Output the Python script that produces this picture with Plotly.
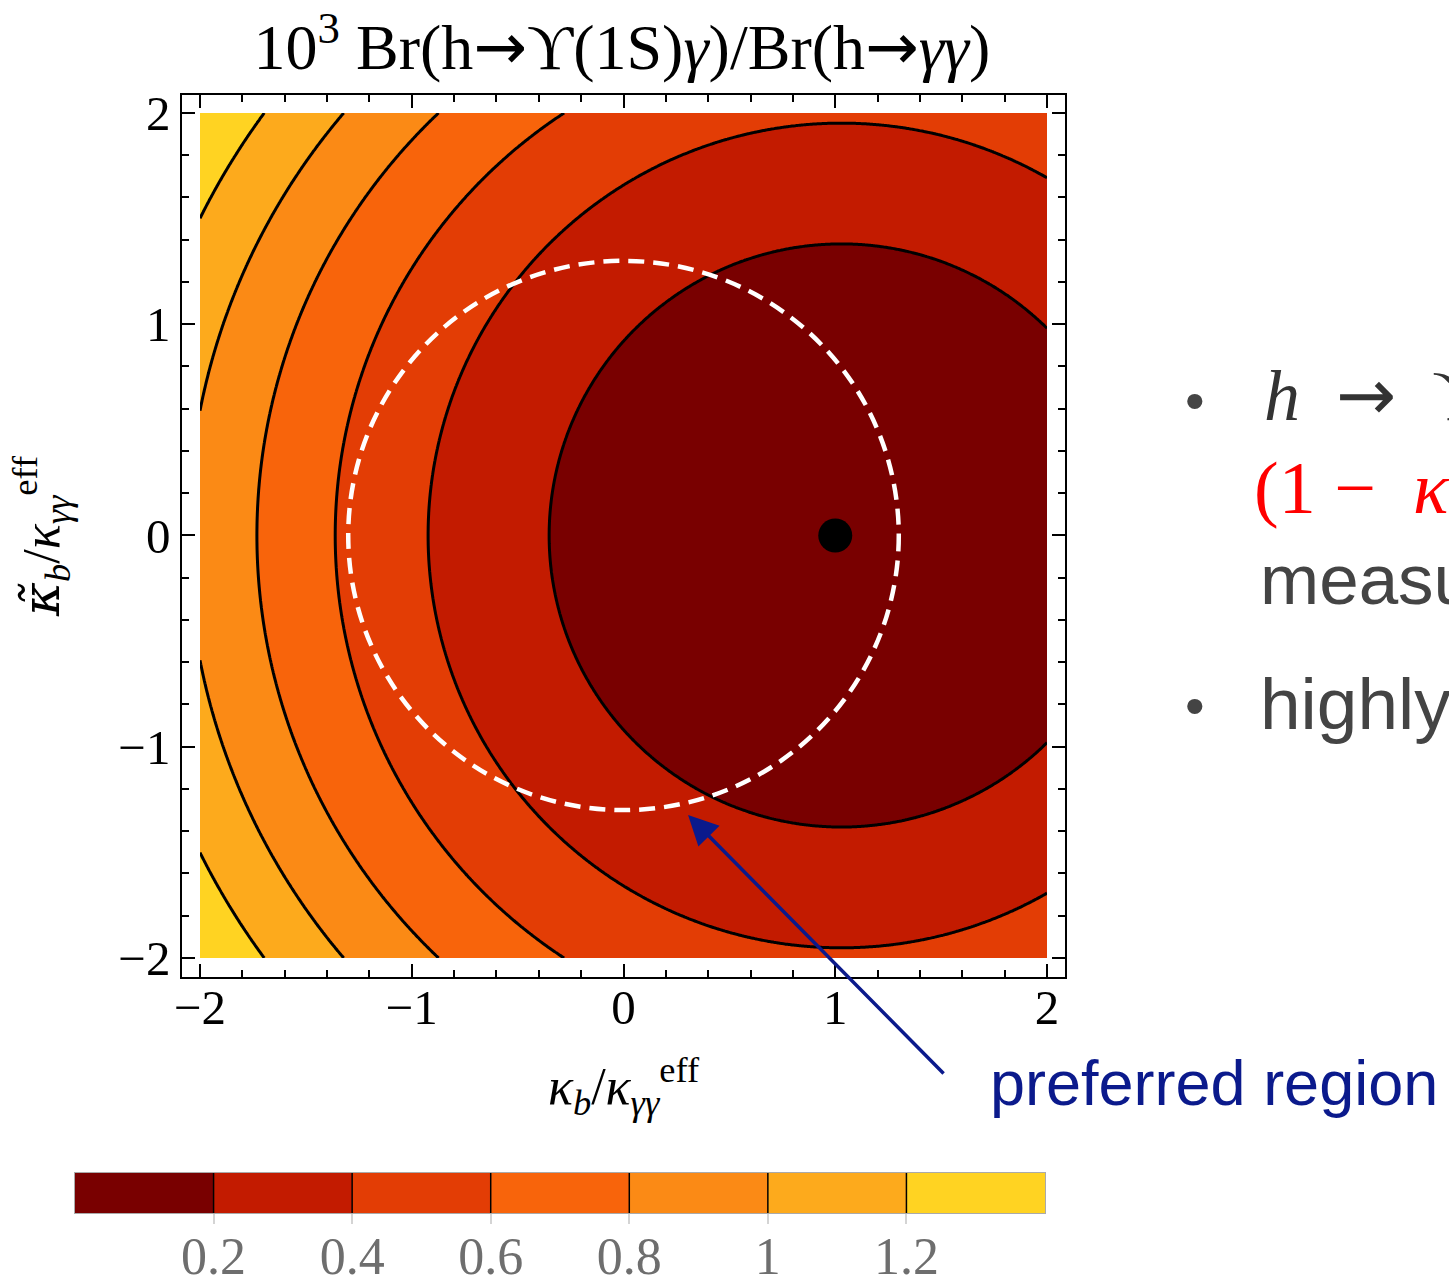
import numpy as np
import plotly.graph_objects as go

# ---- data ----
x_ticks = [-2, -1, 0, 1, 2]
y_ticks = [-2, -1, 0, 1, 2]
contour_levels = [0.2, 0.4, 0.6, 0.8, 1.0, 1.2]
colorbar_labels = ["0.2", "0.4", "0.6", "0.8", "1", "1.2"]
colorbar_edges = [0.0, 0.2, 0.4, 0.6, 0.8, 1.0, 1.2, 1.4]
colorbar_mids = [0.1, 0.3, 0.5, 0.7, 0.9, 1.1, 1.3]
band_colors = ["#790000", "#C31B00", "#E33D05", "#F8640B", "#FB8A15", "#FDAA1C", "#FFD322"]
# model of the ratio: scale * ((x - cx)^2 + y^2)
ratio_scale = 0.105
ratio_center_x = 1.029
grid_x = np.linspace(-2, 2, 401)
grid_y = np.linspace(-2, 2, 401)
preferred_center = [0.0, 0.0]
preferred_radius = 1.3
sm_point_x = [1.0]
sm_point_y = [0.0]

W, H = 1449, 1275
L, R, T, B = 182, 1065, 95, 977  # main frame in pixels
CB_L, CB_R, CB_T, CB_B = 75, 1045, 1173, 1213  # colour bar in pixels


def fx(xp):
    return xp / W


def fy(yp):
    return 1 - yp / H


X, Y = np.meshgrid(grid_x, grid_y)
Z = ratio_scale * ((X - ratio_center_x) ** 2 + Y ** 2)

n = len(band_colors)
colorscale = []
for i, c in enumerate(band_colors):
    colorscale.append([i / n, c])
    colorscale.append([(i + 1) / n, c])

serif = "Liberation Serif, Times New Roman, serif"
sans = "Liberation Sans, Arial, Helvetica, sans-serif"
ARROW = '<span style="font-family:DejaVu Sans">→</span>'
KAPPA_TILDE = '<span style="font-family:DejaVu Serif"><i>κ̃</i></span>'

fig = go.Figure()
fig.add_trace(go.Contour(
    x=grid_x, y=grid_y, z=Z,
    autocontour=False,
    contours=dict(start=contour_levels[0], end=contour_levels[-1], size=0.2,
                  coloring="fill", showlines=True),
    line=dict(color="black", width=3, smoothing=1),
    colorscale=colorscale, showscale=False,
    hoverinfo="skip",
    xaxis="x", yaxis="y",
))

fig.add_trace(go.Scatter(
    x=sm_point_x, y=sm_point_y, mode="markers",
    marker=dict(color="black", size=34),
    hoverinfo="skip", showlegend=False, cliponaxis=False,
    xaxis="x", yaxis="y",
))

# colour bar drawn as a one-row heatmap on its own axes
fig.add_trace(go.Heatmap(
    x=colorbar_edges, y=[0, 1], z=[colorbar_mids],
    zmin=colorbar_edges[0], zmax=colorbar_edges[-1],
    colorscale=colorscale, showscale=False, hoverinfo="skip",
    xaxis="x2", yaxis="y2",
))
sep_x, sep_y = [], []
for lv in contour_levels:
    sep_x += [lv, lv, None]
    sep_y += [0, 1, None]
fig.add_trace(go.Scatter(
    x=sep_x, y=sep_y, mode="lines", line=dict(color="black", width=1.5),
    hoverinfo="skip", showlegend=False, xaxis="x2", yaxis="y2",
))

fig.add_shape(type="circle", xref="x", yref="y",
              x0=preferred_center[0] - preferred_radius, x1=preferred_center[0] + preferred_radius,
              y0=preferred_center[1] - preferred_radius, y1=preferred_center[1] + preferred_radius,
              line=dict(color="white", width=4.5, dash="16px,9px"))

axis_common = dict(
    showgrid=False, zeroline=False, automargin=False,
    showline=True, linecolor="black", linewidth=1.5, mirror="ticks",
    ticks="inside", ticklen=13, tickwidth=1.5, tickcolor="black",
    tickfont=dict(family=serif, size=49, color="black"),
    minor=dict(dtick=0.2, ticks="inside", ticklen=7, tickwidth=1.5, tickcolor="black", showgrid=False),
)

fig.update_layout(
    width=W, height=H, autosize=False,
    margin=dict(l=0, r=0, t=0, b=0, pad=0),
    paper_bgcolor="white", plot_bgcolor="white",
    showlegend=False,
    title=dict(
        text="10<sup>3</sup> Br(h" + ARROW + "ϒ(1S)<i>γ</i>)/Br(h" + ARROW + "<i>γγ</i>)",
        xref="container", x=622 / W, xanchor="center",
        yref="container", y=fy(47), yanchor="middle", automargin=False,
        font=dict(family=serif, size=64, color="black"),
    ),
    xaxis=dict(axis_common, domain=[fx(L), fx(R)], anchor="y",
               range=[-2.085, 2.085], tickvals=x_ticks, ticklabelstandoff=-14,
               title=dict(text="<i>κ</i><sub><i>b</i></sub>/<i>κ</i><sub><i>γγ</i></sub><sup>eff</sup>",
                          font=dict(family=serif, size=52, color="black"), standoff=34)),
    yaxis=dict(axis_common, domain=[fy(B), fy(T)], anchor="x",
               range=[-2.09, 2.085], tickvals=y_ticks,
               title=dict(text=KAPPA_TILDE + "<sub><i>b</i></sub>/<i>κ</i><sub><i>γγ</i></sub><sup>eff</sup>",
                          font=dict(family=serif, size=52, color="black"), standoff=42)),
    xaxis2=dict(domain=[fx(CB_L), fx(CB_R)], anchor="y2", range=[colorbar_edges[0], colorbar_edges[-1]],
                tickvals=contour_levels, ticktext=colorbar_labels, automargin=False,
                ticks="outside", ticklen=10, tickwidth=1.5, tickcolor="#d4d4d4",
                ticklabelstandoff=-12,
                showline=True, linecolor="#aaaaaa", linewidth=1, mirror=True,
                showgrid=False, zeroline=False,
                tickfont=dict(family=serif, size=52, color="#6e6e6e")),
    yaxis2=dict(domain=[fy(CB_B), fy(CB_T)], anchor="x2", range=[0, 1], automargin=False,
                showticklabels=False, ticks="", showgrid=False, zeroline=False,
                showline=True, linecolor="#aaaaaa", linewidth=1, mirror=True),
)

# arrow pointing at preferred region
fig.add_annotation(x=0.305, y=-1.323, xref="x", yref="y", text="", showarrow=True,
                   ax=257, ay=260, arrowcolor="#0B1A8C", arrowwidth=3.5,
                   arrowhead=2, arrowsize=1.7, standoff=0)


def txt(xp, yp, text, size, color, family, anchor="left"):
    fig.add_annotation(x=fx(xp), y=fy(yp), xref="paper", yref="paper", text=text, showarrow=False,
                       xanchor=anchor, yanchor="middle",
                       font=dict(family=family, size=size, color=color))


txt(988, 1083, "preferred region", 63, "#0B1A8C", sans)
txt(1183, 400, "•", 56, "#444444", sans)
txt(1183, 705, "•", 56, "#444444", sans)
txt(1262, 395, "<i>h</i>\u2002" + ARROW + "\u2002ϒ", 72, "#333333", serif)
txt(1252, 488, "(1 −\u2002<i>κ</i>", 74, "#ff0000", serif)
txt(1258, 580, "measu", 71, "#444444", sans)
txt(1258, 703, "highly", 73, "#444444", sans)

fig.write_html("out.html", config={"displayModeBar": False},
               post_script="document.body.style.margin='0px';")
